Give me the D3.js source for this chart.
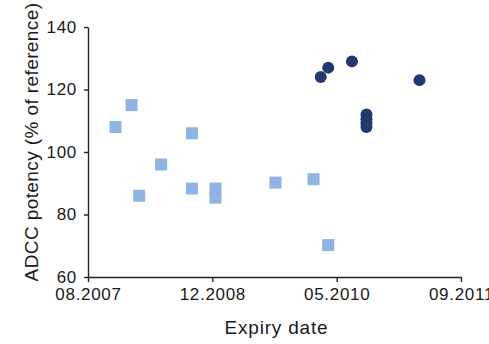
<!DOCTYPE html>
<html>
<head>
<meta charset="utf-8">
<script src="https://cdn.jsdelivr.net/npm/d3@7/dist/d3.min.js"></script>
<style>
  body { margin: 0; background: #fff; }
  text { font-family: "Liberation Sans", Arial, sans-serif; fill: #1a1a1a; }
</style>
</head>
<body>
<div id="chart"></div>
<script>
// x tick dates (MM.YYYY)
const tickLabels = ["08.2007", "12.2008", "05.2010", "09.2011"];

// light squares: [date, potency]
const squareDates = ["2007-11-17", "2008-01-19", "2008-02-18", "2008-05-14", "2008-09-12",
  "2008-09-12", "2008-12-14", "2008-12-14", "2009-08-20", "2010-01-25", "2010-03-27"];
const squareValues = [108, 115, 86, 96, 106, 88.3, 88.3, 85.4, 90.2, 91.3, 70.2];

// dark circles
const circleDates = ["2010-02-24", "2010-03-27", "2010-06-30", "2011-03-22",
  "2010-08-26", "2010-08-26", "2010-08-26", "2010-08-26"];
const circleValues = [124, 127, 129, 123, 112, 110.5, 109.2, 108];

const yTicks = [60, 80, 100, 120, 140];

const width = 489, height = 344;
const margin = { left: 88, right: 28, top: 27, bottom: 67 };

const parse = d3.timeParse("%Y-%m-%d");
const parseTick = d3.timeParse("%m.%Y");
const tickDates = tickLabels.map(parseTick);

const svg = d3.select("#chart")
  .append("svg")
  .attr("width", width)
  .attr("height", height);

const x0 = margin.left, x1 = width - margin.right;
const step = (x1 - x0) / (tickDates.length - 1);

// piecewise time scale so the ticks sit evenly spaced like the original
const xScale = d3.scaleTime()
  .domain(tickDates)
  .range(tickDates.map((d, i) => x0 + i * step));

const yScale = d3.scaleLinear()
  .domain([60, 140])
  .range([height - margin.bottom, margin.top]);

const xAxis = svg.append("g")
  .attr("transform", `translate(0,${height - margin.bottom})`)
  .call(d3.axisBottom(xScale)
    .tickValues(tickDates)
    .tickFormat(d3.timeFormat("%m.%Y"))
    .tickSize(5)
    .tickSizeOuter(0)
    .tickPadding(6));

const yAxis = svg.append("g")
  .attr("transform", `translate(${margin.left},0)`)
  .call(d3.axisLeft(yScale)
    .tickValues(yTicks)
    .tickSize(4)
    .tickSizeOuter(0)
    .tickPadding(7));

[xAxis, yAxis].forEach(g => {
  g.selectAll("path, line").attr("stroke", "#222").attr("stroke-width", 1.4);
  g.selectAll("text")
    .attr("font-size", 17)
    .attr("letter-spacing", "0.7px")
    .attr("fill", "#1a1a1a");
});

const sq = 12;
svg.append("g")
  .selectAll("rect")
  .data(squareDates.map((d, i) => ({ date: parse(d), val: squareValues[i] })))
  .join("rect")
  .attr("x", d => xScale(d.date) - sq / 2)
  .attr("y", d => yScale(d.val) - sq / 2)
  .attr("width", sq)
  .attr("height", sq)
  .attr("fill", "#8db4e2");

svg.append("g")
  .selectAll("circle")
  .data(circleDates.map((d, i) => ({ date: parse(d), val: circleValues[i] })))
  .join("circle")
  .attr("cx", d => xScale(d.date))
  .attr("cy", d => yScale(d.val))
  .attr("r", 6)
  .attr("fill", "#1f3a6e");

svg.append("text")
  .attr("x", (x0 + x1) / 2 + 2)
  .attr("y", 334)
  .attr("text-anchor", "middle")
  .attr("font-size", 19)
  .attr("letter-spacing", "0.8px")
  .text("Expiry date");

svg.append("text")
  .attr("transform", "translate(38,142) rotate(-90)")
  .attr("text-anchor", "middle")
  .attr("font-size", 19)
  .attr("letter-spacing", "0.4px")
  .text("ADCC potency (% of reference)");
</script>
</body>
</html>
